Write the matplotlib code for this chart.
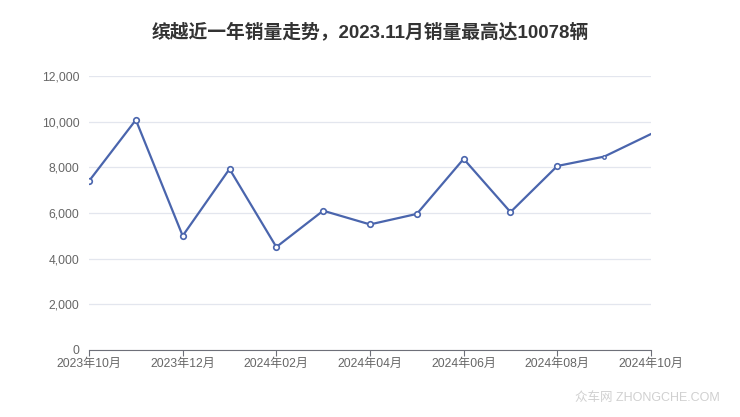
import matplotlib
matplotlib.use("Agg")
import matplotlib.pyplot as plt
from matplotlib.ticker import FuncFormatter

plt.rcParams["font.family"] = ["Liberation Sans", "Noto Sans CJK SC", "DejaVu Sans"]

months = ["2023年10月", "2023年11月", "2023年12月", "2024年01月", "2024年02月",
          "2024年03月", "2024年04月", "2024年05月", "2024年06月", "2024年07月",
          "2024年08月", "2024年09月", "2024年10月"]
sales = [7400, 10078, 5000, 7930, 4510, 6100, 5500, 5960, 8370, 6040, 8060, 8470, 9460]
yticks = [0, 2000, 4000, 6000, 8000, 10000, 12000]

LINE = "#4a65ad"
fig = plt.figure(figsize=(7.4, 4.17), dpi=100)
ax = fig.add_axes([0.1203, 0.1607, 0.7594, 0.657])

x = list(range(len(months)))
ax.plot(x, sales, color=LINE, lw=1.6, zorder=3)
# open circle markers (the last two are drawn smaller / hidden as in the source)
ax.plot(x[:11], sales[:11], ls="none", marker="o", ms=4, mfc="white",
        mec=LINE, mew=1.2, zorder=4)
ax.plot(x[11:12], sales[11:12], ls="none", marker="o", ms=2.5, mfc="white",
        mec=LINE, mew=1, zorder=4)

ax.set_xlim(0, len(months) - 1)
ax.set_ylim(0, 12000)
ax.set_yticks(yticks)
ax.yaxis.set_major_formatter(FuncFormatter(lambda v, p: f"{int(v):,}"))
ax.set_xticks(x[::2])
ax.set_xticklabels(months[::2])

ax.grid(axis="y", color="#e3e6ee", lw=0.9)
ax.set_axisbelow(True)
for s in ["top", "right", "left"]:
    ax.spines[s].set_visible(False)
ax.spines["bottom"].set_color("#6e7079")
ax.tick_params(axis="y", length=0, labelsize=8.7, labelcolor="#666666", pad=7)
ax.tick_params(axis="x", length=4, color="#6e7079", labelsize=8.7,
               labelcolor="#666666", pad=2)

fig.text(0.5, 0.923, "缤越近一年销量走势，2023.11月销量最高达10078辆",
         ha="center", va="center", fontsize=13.5, fontweight="bold", color="#333333")
fig.text(0.973, 0.045, "众车网 ZHONGCHE.COM", ha="right", va="center",
         fontsize=9, color="#d0d0d0")

fig.savefig("out.png", dpi=100)
